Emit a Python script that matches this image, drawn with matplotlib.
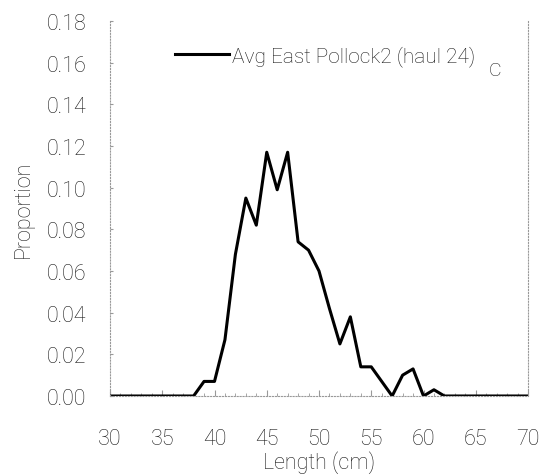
import numpy as np
import matplotlib.pyplot as plt

plt.rcParams['font.family'] = ['Roboto', 'DejaVu Sans']
plt.rcParams['font.weight'] = 'light'
plt.rcParams['text.color'] = '#1a1a1a'
plt.rcParams['axes.labelcolor'] = '#1a1a1a'
plt.rcParams['axes.labelweight'] = 'light'
plt.rcParams['xtick.labelcolor'] = '#1a1a1a'
plt.rcParams['ytick.labelcolor'] = '#1a1a1a'

length = [30, 31, 32, 33, 34, 35, 36, 37, 38, 39, 40, 41, 42, 43, 44, 45, 46, 47, 48, 49,
          50, 51, 52, 53, 54, 55, 56, 57, 58, 59, 60, 61, 62, 63, 64, 65, 66, 67, 68, 69, 70]
proportion = [0, 0, 0, 0, 0, 0, 0, 0, 0, 0.007, 0.007, 0.027, 0.068, 0.095, 0.082, 0.117,
              0.099, 0.117, 0.074, 0.070, 0.060, 0.042, 0.025, 0.038, 0.014, 0.014, 0.007,
              0.0, 0.010, 0.013, 0.0, 0.003, 0, 0, 0, 0, 0, 0, 0, 0, 0]
series_name = 'Avg East Pollock2 (haul 24)'
xticks = [30, 35, 40, 45, 50, 55, 60, 65, 70]
yticks = [0.00, 0.02, 0.04, 0.06, 0.08, 0.10, 0.12, 0.14, 0.16, 0.18]

fig = plt.figure(figsize=(5.46, 4.77), dpi=100)
ax = fig.add_axes([110 / 546, 1 - 397 / 477, 418 / 546, 375 / 477])

ax.plot(length, proportion, color='black', linewidth=2.2, label=series_name)

ax.set_xlim(30, 70)
ax.set_ylim(0, 0.18)
ax.set_xticks(xticks)
ax.set_yticks(yticks)
ax.set_yticklabels([f'{v:.2f}' for v in yticks])
ax.set_xticks(np.arange(30, 71, 1), minor=True)
ax.tick_params(axis='x', which='major', direction='in', length=4, pad=23, labelsize=15.5, color='#999999')
ax.tick_params(axis='x', which='minor', direction='in', length=2, color='#999999')
ax.tick_params(axis='y', which='major', direction='in', length=2, pad=17, labelsize=15.5, color='#999999')

for side in ['left', 'right', 'bottom']:
    ax.spines[side].set_linestyle(':')
    ax.spines[side].set_color('#999999')
    ax.spines[side].set_linewidth(0.8)
ax.spines['top'].set_visible(False)

ax.set_xlabel('Length (cm)', fontsize=15.5, labelpad=1, fontweight='light')
ax.set_ylabel('Proportion', fontsize=15.5, labelpad=9, fontweight='light')

leg = ax.legend(loc='upper left', bbox_to_anchor=(0.11, 0.985), frameon=False,
                fontsize=15, handlelength=2.6, handletextpad=0.15)
ax.text(0.905, 0.855, 'C', transform=ax.transAxes, fontsize=14)

fig.savefig('out.png', dpi=100)
